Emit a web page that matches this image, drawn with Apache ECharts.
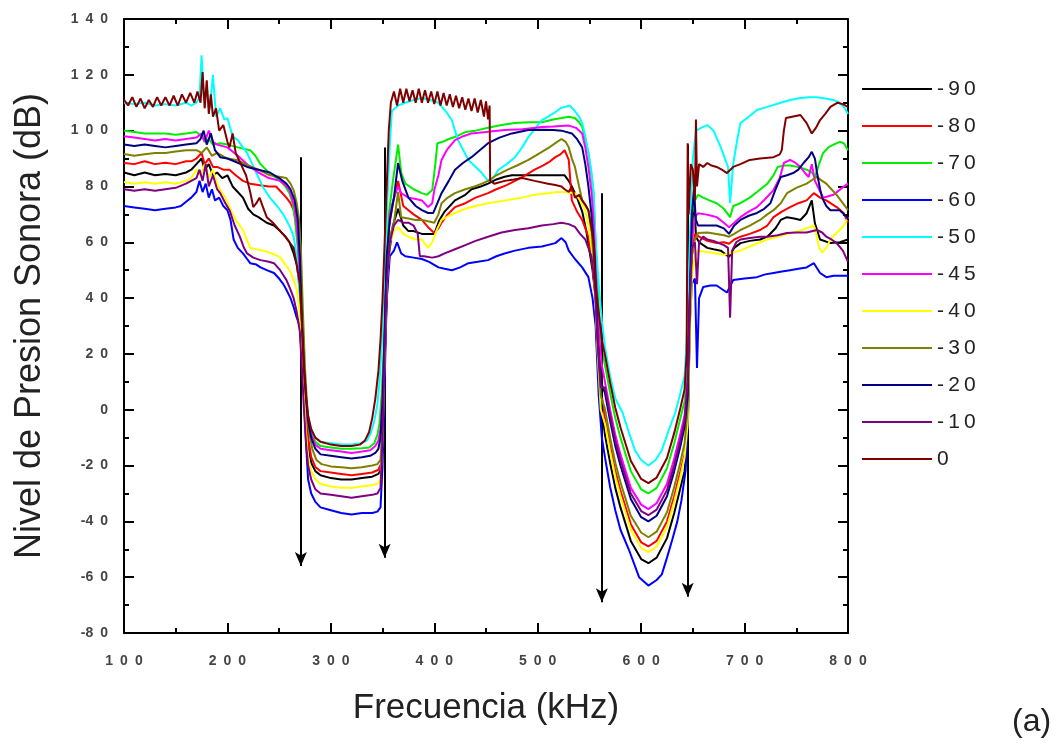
<!DOCTYPE html>
<html>
<head>
<meta charset="utf-8">
<title>Nivel de Presion Sonora</title>
<script src="https://cdn.jsdelivr.net/npm/echarts@6/dist/echarts.min.js"></script>
<style>
  html, body { margin: 0; padding: 0; background: #fff; }
  #chart { width: 1064px; height: 748px; }
</style>
</head>
<body>
<div id="chart"></div>
<script>
// Series labels (angle) shown in the legend
const legendLabels = ['-90', '-80', '-70', '-60', '-50', '-45', '-40', '-30', '-20', '-10', '0'];

// Sound pressure level (dB) versus frequency (kHz), one [kHz, dB] list per angle
const spl_m90 = [[100,85],[110,84],[120,85],[130,84],[140,84.5],[150,84],[160,85],[165,86],[170,88],[175,90],[178,86],[182,88],[186,84],[190,85],[195,83],[200,84],[205,80],[210,78],[215,76],[220,72],[225,70],[230,69],[238,67],[245,66],[251,64],[256,62],[260,60],[264,56],[267,52],[270,44],
  [272,28],[274,12],[276,0],[278,-12],[281,-19],[285,-22],[290,-23.5],[300,-24.5],[310,-25],[320,-25],[330,-24.5],[340,-24],[346,-23],[349,-21],[351,0],[353,30],[356,55],[360,66],[365,72],[370,66],[375,64],[380,64],[388,63],[395,63],[400,63],[405,68],[410,71],[420,75],[430,77],[436,79],[445,80],[452,81],[460,82.5],[468,83.5],[475,84],[485,84],[495,84],[505,84],[515,84],[526,84],[530,82],[533,80],[538,76],[543,71],[547,64],[550,57],[553,50],[556,40],
  [559,20],[562,0],[565,-9],[570,-19],[575,-28],[580,-35],[590,-47],[600,-53.5],[607,-55],[615,-53],[625,-46],[632,-37],[638,-28],[642,-22],[645,-10],[647,30],[649,60],[651,79],[653,62],[656,60],[660,59],[664,58],[670,57.5],[677,57],[685,54.7],[690,58],[696,59.7],[705,60.5],[715,61],[722,62],[730,65],[735,68],[741,69],[748,68.5],[754,68],[760,70.4],[765,75],[768,66.8],[773,61],[783,59.7],[792,60],[800,61]];

const spl_m80 = [[100,88.4],[110,88],[120,89],[130,88],[140,88.5],[150,88],[160,89],[165,89],[170,90],[175,92],[178,88],[182,90],[186,87],[190,87],[196,86],[202,86],[208,84],[215,82],[222,81],[230,80.5],[240,80],[247,80],[252,78],[257,76],[261,74],[264,71.5],[267,66],[270,55],
  [272,32],[274,15],[276,2],[278,-10],[281,-17],[285,-20.5],[290,-22],[300,-22.5],[310,-23],[320,-23.5],[330,-23],[340,-22.5],[346,-21.5],[349,-19],[351,5],[353,40],[356,65],[360,74],[365,82],[370,73],[380,70],[388,68],[395,65],[400,63.3],[404,65],[407,67],[413,70],[420,72.6],[430,74],[440,76],[452,77.6],[460,79],[470,80.5],[478,82],[488,84],[497,86],[505,87.5],[512,89],[517,90.5],[522,91.5],[526,93],[530,89.5],[533,75],[538,71],[543,68],[549,62],[553,52],[556,40],
  [559,22],[562,5],[565,-3],[570,-13],[575,-22],[580,-29],[590,-41],[600,-47.5],[607,-49],[615,-47],[625,-40],[632,-31],[638,-22],[642,-16],[645,-5],[647,30],[649,55],[652,63],[656,62],[664,60.5],[673,59.7],[680,60],[685,59.5],[690,61],[696,62],[705,63],[715,64.4],[722,66],[728,69],[736,71],[744,72.6],[752,74],[760,75],[767,77.6],[773,76],[779,75],[789,72.6],[796,70.4],[800,67]];

const spl_m70 = [[100,100],[110,99.5],[120,99],[130,99],[140,99],[150,98.5],[160,99],[170,99.5],[175,98],[178,96],[182,97],[186,95],[193,95.5],[200,95],[210,94],[222,93],[227,91],[232,88],[240,85],[251,82],[256,80],[260,77.6],[263,74],[265,69],[268,58],[270,45],
  [272,30],[274,14],[276,4],[278,-3],[281,-8],[285,-11.5],[290,-13],[300,-13.5],[310,-14],[320,-14],[330,-13.8],[337,-13.5],[342,-12],[345,-9],[347,-5],[349,5],[351,20],[353,45],[356,70],[360,82],[365,95],[368,85],[372,81],[380,79],[388,77.6],[393,77],[398,78.7],[401,88],[403,95.5],[408,96],[414,97],[422,98],[430,99.5],[440,100],[452,101],[465,102],[478,102.7],[491,103],[504,103],[515,104],[523,104.5],[530,105],[536,104.5],[540,103],[543,101.3],[546,97],[549,92],[552,84],[554,77.6],[556,60],
  [559,35],[562,22],[565,16],[570,6],[575,-3],[580,-10],[590,-22],[600,-28.5],[607,-30],[615,-28],[625,-21],[632,-12],[638,-3],[642,3],[645,15],[647,45],[649,70],[652,75],[655,77],[660,76],[666,75],[673,74],[680,72],[686,69],[689,73],[696,74],[705,76],[712,78],[722,81],[728,84],[732,87],[738,87.5],[744,87.5],[752,87],[760,86],[765,85],[768,83.4],[772,88],[776,92],[781,94],[786,95],[792,96],[796,95.5],[800,93]];

const spl_m60 = [[100,73],[110,72.5],[120,72],[130,71.5],[140,72],[150,72.5],[155,73],[160,74.5],[165,76],[170,78],[173,82],[176,78],[179,81],[182,76],[185,79],[188,75],[192,76],[196,73],[200,71.5],[203,68],[206,61],[210,58],[215,56],[219,54],[222,52.5],[228,52],[232,51],[238,50],[245,49],[250,47],[254,45],[257,43],[261,40],[264,36.8],[267,33],[270,30],
  [272,18],[274,5],[276,-12],[278,-25],[281,-30],[285,-33],[290,-35],[300,-36],[310,-37],[320,-37.5],[330,-37],[340,-37],[345,-36.5],[348,-35],[350,-20],[352,10],[354,40],[357,55],[361,57],[364,60],[368,56],[372,55],[380,54.5],[388,54],[395,53],[404,51],[410,50.5],[417,50],[425,51],[433,52.5],[442,53],[452,53.6],[460,55],[468,56],[478,57],[491,58],[504,58.5],[517,59.7],[523,61.5],[527,60],[530,57],[536,54],[543,51],[549,47.5],[553,40],[556,30],
  [559,5],[562,-10],[565,-17],[570,-27.7],[575,-36],[580,-43],[588,-50],[598,-60],[607,-63],[615,-61],[620,-59],[625,-53],[630,-46.7],[635,-40],[639,-32.4],[643,-21.7],[645,-5],[647,30],[649,45],[652,47],[654,15],[656,40],[660,44],[667,44.5],[673,44.5],[679,43],[683,42],[689,46.5],[700,47],[712,47.5],[720,48.5],[728,49],[736,49.5],[744,50],[752,50.5],[760,51],[767,52.5],[773,49],[779,47.5],[786,48],[792,48],[800,48]];

const spl_m50 = [[100,110],[110,109.5],[120,110],[130,109],[140,109.5],[150,109],[160,110],[165,109],[170,110],[173,112],[175,127],[177,112],[180,115],[183,108],[186,120],[189,105],[193,108],[197,104],[200,104.5],[205,98],[210,96.6],[215,94],[219,92],[224,88],[229,84],[234,80],[241,76],[248,73],[254,70],[257,68],[261,65],[264,62],[267,55],[270,40],
  [272,25],[274,10],[276,2],[278,-3],[281,-7],[285,-10],[290,-11.5],[300,-12],[310,-12.5],[320,-12.5],[330,-12],[335,-11],[339,-8],[342,-4],[345,2],[347,10],[349,22],[351,40],[354,70],[357,95],[359,107],[365,109],[372,110],[380,111],[388,111.7],[396,111],[404,110],[411,107],[417,103.8],[420,100],[423,96.6],[428,93],[433,89.5],[440,87],[446,84.8],[452,82],[457,83],[462,86],[470,88],[478,90.5],[485,94],[491,97.7],[498,101],[504,103.8],[510,105],[517,106.6],[522,108],[526,108.5],[531,109],[536,107],[540,105],[543,102.7],[546,98],[549,92],[552,85],[554,77.6],[556,60],
  [559,45],[562,32],[565,22.5],[570,12],[575,4],[582,-1],[588,-8],[594,-14.5],[600,-18],[607,-20],[614,-18],[620,-14.5],[627,-7],[633,-1],[638,6],[642,12],[644,25],[647,60],[650,90],[653,100],[658,101],[664,102],[670,100],[677,94],[681,90],[684,87],[686,74],[689,88],[693,97],[696,102.7],[704,105],[712,107.4],[722,108.5],[735,110],[744,111],[754,111.7],[762,112],[770,112],[778,111.5],[786,111],[792,110],[797,108],[800,106]];

const spl_m45 = [[100,98],[110,97.5],[120,97],[130,96.5],[140,97],[150,96.5],[160,97],[170,97.5],[175,99],[178,96],[182,100],[186,96],[190,95],[200,94],[210,91],[222,87],[230,85],[240,83],[251,82],[256,80.5],[260,78.7],[263,75],[265,72.6],[268,62],[270,48],
  [272,30],[274,14],[276,3],[278,-4],[281,-9],[285,-12.5],[290,-14],[300,-14.5],[310,-15],[320,-15.5],[330,-15],[338,-14.5],[343,-13],[346,-11],[348,-7],[350,5],[352,25],[354,50],[357,70],[361,76],[365,80],[368,77.6],[375,76],[382,75.5],[388,75],[394,72.6],[398,74],[400,78.7],[404,84],[407,89.5],[412,93],[420,96.6],[428,98],[436,99],[450,99.5],[468,100.2],[485,100.5],[504,101.3],[515,101.5],[530,101.8],[537,101],[543,99],[546,94],[549,87],[552,78],[554,68],[556,50],
  [559,28],[562,16],[565,10],[570,0],[575,-9],[580,-16],[590,-28],[600,-34],[607,-35.6],[615,-33.5],[625,-26.5],[632,-17.5],[638,-8.5],[642,-2],[645,10],[647,40],[649,60],[652,69],[655,70.4],[662,70],[668,69.5],[673,69],[680,67],[685,65.4],[690,67],[696,69],[704,71],[712,72.6],[720,75.5],[728,78.7],[734,83],[738,88.4],[744,89.5],[749,88.5],[754,87],[758,85],[762,83.4],[765,88],[768,82],[772,79],[776,76],[781,76.5],[786,77],[791,78.5],[796,80],[800,81]];

const spl_m40 = [[100,81.6],[110,81],[120,81.5],[130,81],[140,81.5],[150,81],[160,82],[165,83],[170,86],[174,84],[178,88],[182,83],[186,86],[190,81],[193,78.7],[198,76],[202,72.6],[208,68],[215,64.4],[222,58],[228,57.5],[235,57],[243,56],[251,54.7],[256,52],[260,50],[264,46.5],[267,43],[270,35],
  [272,20],[274,5],[276,-8],[278,-17],[281,-22],[285,-25],[290,-26.5],[300,-27.5],[310,-28],[320,-28],[330,-27.5],[340,-27],[345,-26.5],[348,-25],[350,-10],[352,20],[354,45],[357,60],[361,64],[365,65.4],[370,63],[375,62],[382,61],[388,61],[394,58],[398,60],[403,65],[407,68],[414,69.5],[420,70.5],[430,72],[440,73],[452,74],[468,75],[485,76],[497,77],[510,77.6],[518,78],[526,78],[536,77.6],[541,75],[546,71.5],[549,66],[552,58],[555,45],
  [558,20],[561,0],[565,-5],[570,-15],[575,-24],[580,-31],[590,-43],[600,-49.5],[607,-51],[615,-49],[625,-42],[632,-33],[638,-24],[642,-17],[645,-5],[647,25],[649,48],[652,55],[655,57],[664,56.5],[673,56],[680,55.5],[685,56],[690,56.5],[696,57],[705,58.5],[715,60],[722,61],[732,62],[744,63.3],[752,64],[760,65],[767,66],[770,62],[772,58],[775,56.4],[779,58],[783,61],[788,63],[792,64.4],[796,66],[800,69]];

const spl_m30 = [[100,91.6],[110,91],[120,91.5],[130,92],[140,92],[150,92.5],[160,93],[170,93],[175,92],[180,94],[185,91],[190,92],[200,90],[209,89.5],[220,87.5],[230,86],[241,84],[250,83.5],[257,83],[261,81],[264,78.7],[267,74],[269,69],[271,58],
  [273,35],[275,15],[277,2],[279,-8],[282,-14],[286,-18],[291,-19.5],[300,-20.3],[310,-20.6],[320,-21],[330,-20.6],[340,-20],[345,-19.5],[348,-18],[350,-5],[352,25],[354,50],[357,62],[361,67],[365,78],[368,69],[375,68.5],[382,68],[388,68],[394,67.5],[400,67],[404,70],[407,74],[413,76],[420,77.6],[430,79],[439,80],[446,81],[452,82],[460,84],[471,86],[480,87.5],[491,89.5],[500,91.5],[510,93.7],[517,95.5],[523,97],[527,96],[530,94],[533,90],[536,87],[540,80],[543,75],[549,71.5],[552,64],[555,50],
  [558,22],[561,5],[565,0.3],[570,-10],[575,-19],[580,-26],[590,-38],[600,-44],[607,-45.7],[615,-43.7],[625,-36.7],[632,-27.7],[638,-18.7],[642,-12],[645,0],[647,30],[649,55],[652,61],[655,63.3],[664,63.5],[673,63],[680,62.5],[685,62],[690,63],[696,64.4],[705,66],[715,68],[722,70],[728,71.5],[735,74],[741,77.6],[750,79.5],[760,81],[766,82.5],[770,83.4],[775,82],[779,81],[784,79],[789,77],[795,74],[800,71.5]];

const spl_m20 = [[100,95],[110,94.5],[120,95],[130,94.5],[140,94],[150,94.5],[160,95],[170,95.5],[174,97],[177,100],[180,95],[184,99],[188,93],[193,90.5],[200,90],[210,88.5],[219,87],[230,86],[241,85],[250,83],[257,81],[261,79],[265,75],[268,68],[270,55],
  [272,32],[274,15],[276,4],[278,-4],[281,-10],[285,-14],[290,-16],[300,-16.5],[310,-17],[320,-17.5],[330,-17],[338,-16.5],[343,-15.5],[346,-14],[348,-10],[350,3],[352,28],[354,55],[357,68],[361,76],[365,88.4],[369,82],[375,76],[382,73],[388,71.5],[394,70.5],[399,70.5],[403,74],[407,77.6],[414,82],[420,86],[428,88.5],[436,90.5],[444,93],[452,95.5],[463,97.5],[475,99],[491,100.2],[505,100.3],[515,100.2],[523,100],[533,99],[538,97],[543,94],[546,88],[549,80],[552,70],[555,55],
  [558,25],[561,10],[565,6],[570,-4],[575,-13],[580,-20],[590,-32],[600,-38.5],[607,-40],[615,-38],[625,-31],[632,-22],[638,-13],[642,-6],[645,5],[647,40],[649,70],[651,78],[653,68],[655,66],[664,66],[673,66],[680,65],[685,63],[690,66],[696,68],[704,69.5],[712,70.5],[719,72],[725,74],[730,79],[735,83.4],[741,84],[747,84.8],[752,86],[757,88.4],[762,90.5],[765,92.4],[768,90],[770,85],[773,79],[775,76],[779,73],[783,71.5],[792,71.5],[799,69],[800,68]];

const spl_m10 = [[100,79],[110,78.5],[120,79],[130,78.5],[140,79],[150,79.5],[160,81],[165,82],[170,83],[173,86],[176,82],[179,88],[182,80],[186,84],[190,79],[193,77.6],[198,74],[202,71.5],[207,66],[212,62],[216,58],[219,56],[225,54.5],[232,53.6],[240,53],[245,52.5],[251,50],[257,46.5],[261,43],[264,40],[267,35],[270,28],
  [272,15],[274,0],[276,-12],[278,-20],[281,-25],[285,-28.5],[290,-30],[300,-30.5],[310,-31],[320,-31.5],[330,-31],[340,-30.5],[345,-30],[348,-28],[350,-10],[352,20],[354,45],[357,60],[361,66],[365,68],[370,67],[375,67],[380,66],[384,63],[386,55],[390,55],[398,54.5],[404,55],[410,56],[420,57.5],[430,59],[440,60.5],[452,62],[465,63.5],[478,64.4],[491,65],[504,66],[515,66.5],[523,67],[530,66.5],[536,65.5],[541,63],[546,61],[549,58],[552,55],[555,45],
  [558,25],[561,8],[565,8],[570,-2],[575,-11],[580,-18],[590,-30],[600,-36.3],[607,-37.8],[615,-35.8],[625,-28.8],[632,-19.8],[638,-10.8],[642,-4],[645,10],[647,40],[649,58],[652,60],[654,45],[656,60],[660,62],[664,61],[670,60.5],[673,60],[680,59],[684,58],[686,33],[688,57],[692,60],[696,61],[705,61.5],[715,62],[722,62],[732,62.5],[741,63.3],[750,63.5],[760,63.5],[770,64.4],[775,63.5],[779,62],[784,61],[789,59.7],[795,57],[800,53]];

const spl_0 = [[100,111],[104,109],[108,112],[112,108.5],[116,111.5],[120,108],[124,111],[128,108.5],[132,112],[136,109],[140,112],[144,109],[148,112.5],[152,109],[156,113],[160,110],[164,113.5],[168,110],[171,114],[174,110],[176,121],[178,108],[180,118],[182,106],[184,113],[186,105],[189,108],[192,100],[196,102],[200,96],[202,94],[205,99],[208,92],[213,88],[218,84],[222,78],[225,72.6],[228,74],[231,76],[235,72],[238,69],[244,67],[251,64],[256,62],[260,60],[264,58],[267,52],[270,45],
  [272,30],[274,15],[276,5],[278,-2],[281,-7],[285,-10],[290,-11.5],[300,-12.5],[310,-13],[320,-13],[328,-12.5],[333,-11],[337,-8],[340,-3],[343,4],[346,14],[348,25],[350,40],[352,60],[354,80],[356,100],[358,110],[361,114],[364,109],[367,115],[370,110],[373,115],[376,110.5],[379,114.5],[382,110],[385,115],[388,110],[391,114.5],[394,110],[397,114],[400,109.5],[403,114],[406,109],[409,113.5],[412,109],[415,113],[418,108.5],[421,112.5],[424,108],[427,112],[430,107.5],[433,111.5],[436,107],[439,111.5],[442,106.5],[445,111],[448,105],[450,110.5],[452,104],[453.5,109],[454,82],[458,81],[468,82],[477,82.5],[485,83],[497,82],[510,81],[517,80.5],[523,80],[526,79],[530,78],[533,80],[536,76],[540,77],[543,75],[546,73.5],[549,71.5],[552,65],[554,60],[556,45],
  [559,35],[562,25],[565,19.7],[570,9.7],[575,0.7],[580,-6.3],[590,-18.3],[600,-24.8],[607,-26.3],[615,-24.3],[625,-17.3],[632,-8.3],[638,0.7],[642,7.3],[644,20],[645,95.5],[646,70],[648,88],[650,86],[652,75],[653,104],[654,80],[656,88],[660,87],[664,88.4],[668,87.5],[673,87],[678,86],[683,84.8],[689,87],[696,88],[705,89.5],[715,90],[728,90.5],[734,91.5],[736,93],[738,100],[740,104.5],[746,105],[754,105.6],[760,102.7],[765,99],[769,101],[773,103.8],[778,106],[783,108.5],[790,110],[795,109.5],[800,108.5]];

const seriesValues = [spl_m90, spl_m80, spl_m70, spl_m60, spl_m50, spl_m45, spl_m40, spl_m30, spl_m20, spl_m10, spl_0];

// Marker arrows at the band edges: frequency (kHz), top and tip level (dB)
const arrowFreqs = [271, 352, 562, 645];
const arrowTops  = [90.5, 94, 77.6, 95];
const arrowTips  = [-56, -53, -69, -67];

// Line colours, in legend order
const lineColors = ['#000000', '#ff0000', '#00ee00', '#0000ff', '#00ffff', '#ff00ff',
                    '#ffff00', '#808000', '#000080', '#800080', '#800000'];

const FONT = 'Liberation Sans, Arial, sans-serif';

// Tick labels are drawn with wide spacing between the digits
function spaced(v) {
  const s = String(v);
  const neg = s.startsWith('-');
  const digits = (neg ? s.slice(1) : s).split('').join('\u2002');
  return (neg ? '-' : '') + digits;
}

const chart = echarts.init(document.getElementById('chart'), null, { renderer: 'canvas' });

const axisLineStyle = { color: '#000', width: 2 };
const tickCommon = {
  axisLine: { show: true, onZero: false, lineStyle: axisLineStyle },
  axisTick: { show: true, inside: true, length: 10, lineStyle: { color: '#000', width: 2 } },
  minorTick: { show: true, splitNumber: 2, length: 5, lineStyle: { color: '#000', width: 2 } },
  splitLine: { show: false },
  minorSplitLine: { show: false }
};
const tickLabelStyle = { fontFamily: FONT, fontSize: 14, fontWeight: 'bold', color: '#444' };

const lineSeries = legendLabels.map((name, i) => ({
  name: name,
  type: 'line',
  data: seriesValues[i],
  showSymbol: false,
  symbol: 'none',
  smooth: false,
  lineStyle: { color: lineColors[i], width: 2 },
  itemStyle: { color: lineColors[i] },
  emphasis: { disabled: true },
  z: 2 + i
}));

const arrowSeries = {
  name: 'arrows',
  type: 'line',
  data: [],
  silent: true,
  markLine: {
    silent: true,
    symbol: ['none', 'arrow'],
    symbolSize: [9, 14],
    label: { show: false },
    lineStyle: { color: '#000', width: 2, type: 'solid' },
    emphasis: { disabled: true },
    data: arrowFreqs.map((f, i) => [{ coord: [f, arrowTops[i]] }, { coord: [f, arrowTips[i]] }])
  },
  z: 20
};

chart.setOption({
  animation: false,
  backgroundColor: '#ffffff',
  grid: { left: 124, right: 216, top: 19, bottom: 115, containLabel: false },
  legend: {
    data: legendLabels,
    orient: 'vertical',
    left: 857,
    top: 73,
    itemWidth: 70,
    itemHeight: 14,
    itemGap: 15,
    icon: 'path://M0,6 L70,6 L70,8 L0,8 Z',
    formatter: n => n.split('').join('\u2009'),
    textStyle: { fontFamily: FONT, fontSize: 21, color: '#222', lineHeight: 22 },
    selectedMode: false
  },
  xAxis: [
    Object.assign({
      type: 'value', min: 100, max: 800, interval: 100, position: 'bottom',
      name: 'Frecuencia (kHz)', nameLocation: 'middle', nameGap: 58,
      nameTextStyle: { fontFamily: FONT, fontSize: 35, color: '#222' },
      axisLabel: Object.assign({ margin: 21, formatter: spaced }, tickLabelStyle)
    }, tickCommon),
    Object.assign({
      type: 'value', min: 100, max: 800, interval: 100, position: 'top',
      axisLabel: { show: false }
    }, tickCommon)
  ],
  yAxis: [
    Object.assign({
      type: 'value', min: -80, max: 140, interval: 20, position: 'left',
      name: 'Nivel de Presion Sonora (dB)', nameLocation: 'middle', nameGap: 76,
      nameTextStyle: { fontFamily: FONT, fontSize: 36, color: '#222' },
      axisLabel: Object.assign({ margin: 16, formatter: spaced }, tickLabelStyle)
    }, tickCommon),
    Object.assign({
      type: 'value', min: -80, max: 140, interval: 20, position: 'right',
      axisLabel: { show: false }
    }, tickCommon)
  ],
  graphic: [{
    type: 'text',
    left: 1012,
    top: 706,
    style: { text: '(a)', fontFamily: FONT, fontSize: 32, fill: '#222' }
  }],
  series: lineSeries.concat([arrowSeries])
});
</script>
</body>
</html>
